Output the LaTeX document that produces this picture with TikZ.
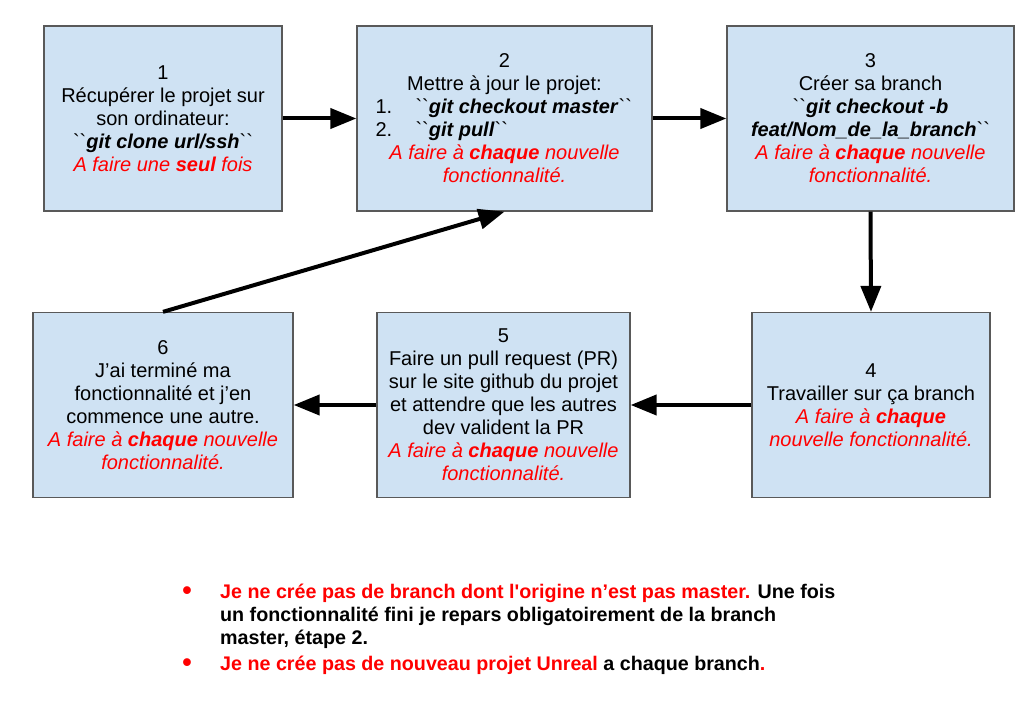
\documentclass[tikz,border=0pt]{standalone}
\usepackage{fontspec}
\setmainfont{Liberation Sans}[Ligatures=TeXOff]
\usetikzlibrary{arrows.meta}
\definecolor{boxfill}{HTML}{CFE2F3}
\definecolor{boxline}{HTML}{595959}
\definecolor{redtxt}{HTML}{FF0000}
\newcommand\bq{\symbol{96}\kern0pt\symbol{96}}
\newcommand\rl[1]{{\color{redtxt}\itshape #1}}
\newcommand\gc[1]{\textbf{\textit{#1}}}
\begin{document}
\begin{tikzpicture}[x=1pt,y=-1pt,
  box/.style={draw=boxline, line width=1.3pt, fill=boxfill, align=center,
    inner sep=0pt, minimum height=185pt, font=\fontsize{20}{23}\selectfont},
  conn/.style={line width=4pt, -{Triangle[length=26pt,width=20pt]}},
  note/.style={anchor=base west, inner sep=0pt, font=\fontsize{19.7}{23}\selectfont\bfseries},
  dot/.style={inner sep=0pt, text=redtxt, font=\fontsize{27}{23}\selectfont\bfseries}]
\useasboundingbox[fill=white] (0,0) rectangle (1020,714);

\node[box, minimum width=238pt] (b1) at (163,118.5)
  {1\\ Récupérer le projet sur\\ son ordinateur:\\ \bq\gc{git clone url/ssh}\bq\\ \rl{A faire une \textbf{seul} fois}};

\node[box, minimum width=295pt] (b2) at (504.5,118.5)
  {2\\ Mettre à jour le projet:\\
   \makebox[258pt][l]{\makebox[40pt][l]{1.}\bq\gc{git checkout master}\bq}\\
   \makebox[258pt][l]{\makebox[40pt][l]{2.}\bq\gc{git pull}\bq}\\
   \rl{A faire à \textbf{chaque} nouvelle}\\ \rl{fonctionnalité.}};

\node[box, minimum width=287pt] (b3) at (870.5,118.5)
  {3\\ Créer sa branch\\ \bq\gc{git checkout -b}\\ \gc{feat/Nom\_de\_la\_branch}\bq\\
   \rl{A faire à \textbf{chaque} nouvelle}\\ \rl{fonctionnalité.}};

\node[box, minimum width=238pt] (b4) at (871,405)
  {4\\ Travailler sur ça branch\\ \rl{A faire à \textbf{chaque}}\\ \rl{nouvelle fonctionnalité.}};

\node[box, minimum width=253pt] (b5) at (503.5,405)
  {5\\ Faire un pull request (PR)\\ sur le site github du projet\\ et attendre que les autres\\ dev valident la PR\\
   \rl{A faire à \textbf{chaque} nouvelle}\\ \rl{fonctionnalité.}};

\node[box, minimum width=260pt] (b6) at (163,405)
  {6\\ J’ai terminé ma\\ fonctionnalité et j’en\\ commence une autre.\\
   \rl{A faire à \textbf{chaque} nouvelle}\\ \rl{fonctionnalité.}};

\draw[conn] (b1.east) -- (b2.west);
\draw[conn] (b2.east) -- (b3.west);
\draw[conn] (b3.south) -- (b4.north);
\draw[conn] (b4.west) -- (b5.east);
\draw[conn] (b5.west) -- (b6.east);
\draw[conn] (b6.north) -- (b2.south);

\node[dot] (d1) at (187,593) {•};
\node[dot] (d2) at (187,665) {•};
\node[note] (t1) at (220,598) {{\color{redtxt}Je ne crée pas de branch dont l'origine n’est pas master.} Une fois};
\node[note] (t2) at (220,621) {un fonctionnalité fini je repars obligatoirement de la branch};
\node[note] (t3) at (220,644) {master, étape 2.};
\node[note] (t4) at (220,670) {{\color{redtxt}Je ne crée pas de nouveau projet Unreal} a chaque branch{\color{redtxt}.}};
\end{tikzpicture}
\end{document}
